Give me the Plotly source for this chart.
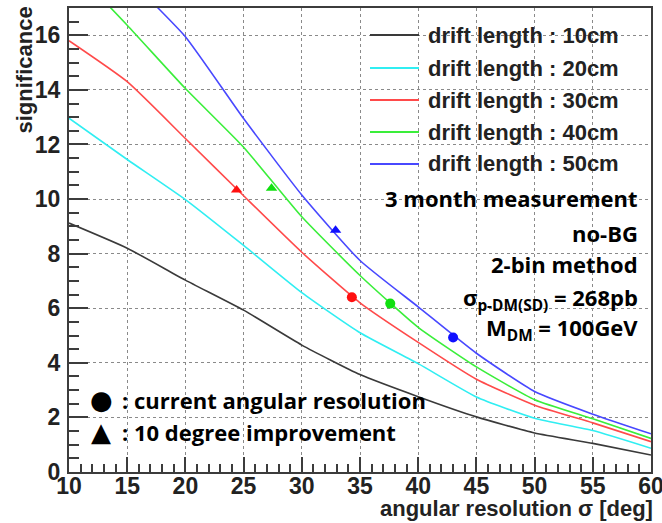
import plotly.graph_objects as go

# ---------------- data ----------------
angle = [10, 15, 20, 25, 30, 35, 40, 45, 50, 55, 60]
sig_10cm = [9.12, 8.20, 7.03, 5.93, 4.65, 3.57, 2.76, 2.02, 1.43, 1.05, 0.62]
sig_20cm = [12.96, 11.45, 9.98, 8.30, 6.57, 5.10, 3.97, 2.75, 1.97, 1.52, 0.87]
sig_30cm = [15.80, 14.30, 12.22, 10.12, 8.05, 6.20, 4.75, 3.40, 2.45, 1.80, 1.11]
sig_40cm = [18.60, 16.37, 14.05, 11.90, 9.35, 7.20, 5.30, 3.85, 2.65, 1.95, 1.23]
sig_50cm = [21.60, 18.20, 15.95, 12.95, 10.15, 7.75, 6.05, 4.35, 2.95, 2.12, 1.40]

series_names = ["drift length : 10cm", "drift length : 20cm", "drift length : 30cm",
                "drift length : 40cm", "drift length : 50cm"]
series_values = [sig_10cm, sig_20cm, sig_30cm, sig_40cm, sig_50cm]
series_colors = ["#3a3a3a", "#30eef2", "#ff4a4a", "#3aee3a", "#4848ff"]

# markers for 30, 40, 50 cm drift length
marker_colors = ["#ff1010", "#10e010", "#1010ff"]
current_res = [34.3, 37.6, 43.0]
current_sig = [6.40, 6.17, 4.93]
improved_res = [24.4, 27.4, 32.9]
improved_sig = [10.33, 10.40, 8.86]

x_ticks = [10, 15, 20, 25, 30, 35, 40, 45, 50, 55, 60]
y_ticks = [0, 2, 4, 6, 8, 10, 12, 14, 16]

# ---------------- figure ----------------
W, H = 662, 523
ML, MR, MT, MB = 69, 11, 8, 51
PW, PH = W - ML - MR, H - MT - MB


def px(xpix):
    return (xpix - ML) / PW


def py(ypix):
    return (H - MB - ypix) / PH


fig = go.Figure()
for name, vals, col in zip(series_names, series_values, series_colors):
    fig.add_trace(go.Scatter(x=angle, y=vals, mode="lines", name=name,
                             line=dict(color=col, width=1.6, shape="spline", smoothing=0.5),
                             showlegend=False))

for i, col in enumerate(marker_colors):
    fig.add_trace(go.Scatter(x=[current_res[i]], y=[current_sig[i]], mode="markers",
                             marker=dict(symbol="circle", size=10, color=col),
                             showlegend=False))
    fig.add_trace(go.Scatter(x=[improved_res[i]], y=[improved_sig[i]], mode="markers",
                             marker=dict(symbol="triangle-up", size=10, color=col),
                             showlegend=False))

root_font = "Liberation Sans, Arial, Helvetica, sans-serif"
calibri_like = "Open Sans, sans-serif"
txt_col = "#222222"
axis_col = "#3c3c3c"

shapes = []
annotations = []

# legend drawn manually (ROOT style)
leg_rows = [35, 68, 100, 132, 164]
for name, col, yr in zip(series_names, series_colors, leg_rows):
    shapes.append(dict(type="line", xref="paper", yref="paper",
                       x0=px(370), x1=px(419), y0=py(yr), y1=py(yr),
                       line=dict(color=col, width=2)))
    annotations.append(dict(text=f"<b>{name}</b>", xref="paper", yref="paper",
                            x=px(426), y=py(yr), xanchor="left", yanchor="middle",
                            showarrow=False, font=dict(family=root_font, size=22, color=txt_col)))

# info text block
info = [
    ("<b>3 month measurement</b>", 198),
    ("<b>no-BG</b>", 233),
    ("<b>2-bin method</b>", 264),
    ("<b>σ<sub>p-DM(SD)</sub> = 268pb</b>", 299),
    ("<b>M<sub>DM</sub> = 100GeV</b>", 329),
]
for t, yr in info:
    annotations.append(dict(text=t, xref="paper", yref="paper", x=px(640), y=py(yr),
                            xanchor="right", yanchor="middle", showarrow=False,
                            font=dict(family=calibri_like, size=22, color="#000000")))

# marker explanation
for sym, t, yr in [("●", "<b>: current angular resolution</b>", 400),
                   ("▲", "<b>: 10 degree improvement</b>", 432)]:
    annotations.append(dict(text=sym, xref="paper", yref="paper", x=px(101), y=py(yr),
                            xanchor="center", yanchor="middle", showarrow=False,
                            font=dict(family="DejaVu Sans", size=26, color="#000000")))
    annotations.append(dict(text=t, xref="paper", yref="paper", x=px(120), y=py(yr),
                            xanchor="left", yanchor="middle", showarrow=False,
                            font=dict(family=calibri_like, size=22, color="#000000")))

# axis titles
annotations.append(dict(text="<b>significance</b>", xref="paper", yref="paper",
                        x=px(24), y=py(5), xanchor="center", yanchor="top", textangle=-90,
                        showarrow=False, font=dict(family=root_font, size=22, color=txt_col)))
annotations.append(dict(text="<b>angular resolution σ [deg]</b>", xref="paper", yref="paper",
                        x=px(655), y=py(509), xanchor="right", yanchor="middle",
                        showarrow=False, font=dict(family=root_font, size=22, color=txt_col)))

fig.update_layout(
    width=W, height=H,
    margin=dict(l=ML, r=MR, t=MT, b=MB, pad=0, autoexpand=False),
    plot_bgcolor="white", paper_bgcolor="white",
    showlegend=False,
    shapes=shapes,
    annotations=annotations,
    xaxis=dict(
        range=[10, 60], tickvals=x_ticks, ticktext=[str(v) for v in x_ticks],
        ticks="inside", ticklen=15, tickwidth=2, tickcolor=axis_col,
        minor=dict(dtick=1, ticks="inside", ticklen=8, tickwidth=1.5, tickcolor=axis_col, showgrid=False),
        showline=True, linecolor=axis_col, linewidth=2, mirror=True,
        showgrid=True, gridcolor="#8a8a8a", griddash="dot", gridwidth=1,
        zeroline=False, ticklabelstandoff=-8, ticklabeloverflow="allow", automargin=False,
        tickfont=dict(family=root_font, size=23, color=txt_col, weight="bold"),
    ),
    yaxis=dict(
        range=[0, 17], tickvals=y_ticks, ticktext=[str(v) for v in y_ticks],
        ticks="inside", ticklen=19, tickwidth=2, tickcolor=axis_col,
        minor=dict(dtick=0.5, tick0=0, ticks="inside", ticklen=10, tickwidth=1.5, tickcolor=axis_col, showgrid=False),
        showline=True, linecolor=axis_col, linewidth=2, mirror=True,
        showgrid=True, gridcolor="#8a8a8a", griddash="dot", gridwidth=1,
        zeroline=False, ticklabelstandoff=2, automargin=False,
        tickfont=dict(family=root_font, size=23, color=txt_col, weight="bold"),
    ),
)

fig.write_html("out.html")
